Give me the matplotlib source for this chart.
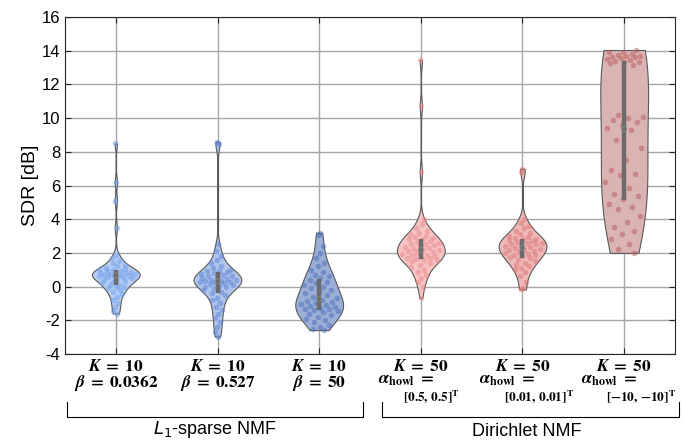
import numpy as np
import matplotlib
matplotlib.use('Agg')
import matplotlib.pyplot as plt
from matplotlib.lines import Line2D
from matplotlib.transforms import blended_transform_factory

plt.rcParams['font.family'] = 'Liberation Sans'
plt.rcParams['mathtext.fontset'] = 'stix'
plt.rcParams['axes.unicode_minus'] = False

# SDR [dB] per configuration
sdr_l1_0362 = [8.5, 6.2, 5.1, 3.5, 1.9, 1.7, 1.5, 1.4, 1.3, 1.2, 1.1, 1.05, 1.0, 0.97,
               0.95, 0.9, 0.88, 0.85, 0.8, 0.78, 0.75, 0.72, 0.7, 0.68, 0.65, 0.62,
               0.6, 0.58, 0.55, 0.5, 0.45, 0.4, 0.35, 0.3, 0.2, 0.12, 0.08, 0.0,
               -0.05, -0.1, -0.2, -0.3, -0.45, -0.6, -0.8, -1.0, -1.2, -1.45, -1.6]
sdr_l1_527 = [8.6, 8.45, 2.5, 2.1, 1.8, 1.6, 1.4, 1.25, 1.1, 1.0, 0.95, 0.9, 0.85, 0.8,
              0.75, 0.7, 0.65, 0.6, 0.55, 0.5, 0.45, 0.42, 0.38, 0.35, 0.32, 0.3,
              0.28, 0.25, 0.2, 0.15, 0.1, 0.05, 0.0, -0.05, -0.1, -0.2, -0.3, -0.4,
              -0.5, -0.65, -0.8, -1.0, -1.2, -1.4, -1.6, -1.85, -2.1, -2.4, -2.7, -2.97]
sdr_l1_50 = [3.2, 3.05, 2.4, 2.0, 1.7, 1.4, 1.2, 1.0, 0.85, 0.7, 0.6, 0.5, 0.4, 0.3,
             0.2, 0.1, 0.0, -0.1, -0.2, -0.3, -0.4, -0.5, -0.6, -0.7, -0.8, -0.85,
             -0.9, -1.0, -1.05, -1.1, -1.15, -1.2, -1.25, -1.3, -1.35, -1.4, -1.45,
             -1.5, -1.6, -1.7, -1.8, -1.9, -2.0, -2.1, -2.25, -2.4, -2.5, -2.58]
sdr_dir_05 = [13.45, 10.7, 6.8, 4.0, 3.7, 3.5, 3.3, 3.2, 3.1, 3.0, 2.95, 2.9, 2.85,
              2.8, 2.7, 2.65, 2.6, 2.55, 2.5, 2.45, 2.4, 2.35, 2.3, 2.25, 2.2, 2.15,
              2.1, 2.05, 2.0, 1.95, 1.9, 1.85, 1.8, 1.75, 1.72, 1.7, 1.65, 1.6, 1.55,
              1.5, 1.4, 1.3, 1.15, 1.0, 0.85, 0.7, 0.5, 0.3, 0.0, -0.66]
sdr_dir_001 = [7.0, 6.8, 4.0, 3.8, 3.6, 3.45, 3.3, 3.2, 3.1, 3.0, 2.95, 2.9, 2.85,
               2.8, 2.75, 2.7, 2.65, 2.6, 2.58, 2.55, 2.5, 2.45, 2.4, 2.35, 2.3,
               2.25, 2.2, 2.15, 2.1, 2.05, 2.0, 1.95, 1.9, 1.85, 1.8, 1.75, 1.7,
               1.6, 1.5, 1.4, 1.3, 1.2, 1.1, 1.0, 0.85, 0.6, 0.3, -0.1, -0.16]
sdr_dir_m10 = [14.04, 13.95, 13.9, 13.8, 13.75, 13.7, 13.7, 13.65, 13.6, 13.55, 13.5,
               13.45, 13.4, 13.35, 13.3, 13.25, 13.15, 10.2, 10.05, 10.0, 9.9, 9.75,
               9.6, 9.4, 9.3, 8.7, 8.2, 7.5, 6.9, 6.7, 6.65, 6.2, 5.85, 5.5, 5.4,
               5.2, 4.9, 4.7, 4.6, 4.2, 3.85, 3.55, 3.3, 3.1, 2.8, 2.5, 2.25, 2.0]

groups = [sdr_l1_0362, sdr_l1_527, sdr_l1_50, sdr_dir_05, sdr_dir_001, sdr_dir_m10]
face_colors = ['#b7cef3', '#b1c4ea', '#9aaed6', '#f6c4c4', '#efb9b9', '#dab3b3']
dot_colors = ['#6f9fea', '#5b84d6', '#4e6fb8', '#ec8a8a', '#dc7676', '#b85a5a']

k_labels = [r'$\boldsymbol{K}\;\mathbf{=}\;\mathbf{10}$'] * 3 + \
           [r'$\boldsymbol{K}\;\mathbf{=}\;\mathbf{50}$'] * 3
beta_labels = [r'$\boldsymbol{\beta}\;\mathbf{=}\;\mathbf{0.0362}$',
               r'$\boldsymbol{\beta}\;\mathbf{=}\;\mathbf{0.527}$',
               r'$\boldsymbol{\beta}\;\mathbf{=}\;\mathbf{50}$']
alpha_label = r'$\boldsymbol{\alpha}_{\mathbf{howl}}\;\mathbf{=}$'
vec_labels = [r'$\mathbf{[0.5,\,0.5]^T}$', r'$\mathbf{[0.01,\,0.01]^T}$',
              r'$\mathbf{[{-}10,\,{-}10]^T}$']


def kde(vals, grid):
    # ksdensity-like bandwidth (robust sigma)
    sig = np.median(np.abs(vals - np.median(vals))) / 0.6745
    bw = sig * (4 / (3 * len(vals))) ** 0.2
    d = np.exp(-0.5 * ((grid[:, None] - vals[None, :]) / bw) ** 2).sum(1)
    return d / d.max()


fig = plt.figure(figsize=(6.84, 4.41), dpi=100)
ax = fig.add_axes([65 / 684, 1 - 354 / 441, 610 / 684, 337 / 441])

half = 0.235
golden = 0.6180339887
for i, vals in enumerate(groups):
    pos = i + 1
    v = np.asarray(vals, dtype=float)
    grid = np.linspace(v.min(), v.max(), 300)
    w = half * kde(v, grid)
    ax.fill_betweenx(grid, pos - w, pos + w, facecolor=face_colors[i],
                     edgecolor='#5a5a5a', lw=0.8, zorder=3)
    jit = ((np.arange(len(v)) * golden + 0.37 * i) % 1.0) * 2 - 1
    xs = pos + jit * 0.85 * np.interp(v, grid, w)
    ax.scatter(xs, v, s=16, color=dot_colors[i], alpha=0.5, lw=0, zorder=4)
    q1, med, q3 = np.percentile(v, [25, 50, 75])
    ax.plot([pos, pos], [q1, q3], color='#6b6b6b', lw=3.2,
            solid_capstyle='butt', zorder=5)
    ax.scatter([pos], [med], s=14, facecolor='none', edgecolor='#8a8a8a',
               lw=0.6, zorder=6)

ax.set_xlim(0.5, 6.5)
ax.set_ylim(-4, 16)
ax.set_yticks(np.arange(-4, 17, 2))
ax.set_xticks(range(1, 7))
ax.set_xticklabels([])
ax.tick_params(axis='both', direction='in', top=True, right=True, length=4,
               width=0.8, labelsize=12, color='#262626')
ax.grid(True, color='#a6a6a6', lw=1)
ax.set_axisbelow(True)
for s in ax.spines.values():
    s.set_color('#262626')
    s.set_linewidth(0.8)
ax.set_ylabel('SDR [dB]', fontsize=14, labelpad=2)

# custom x labels
tr = blended_transform_factory(ax.transData, ax.transAxes)
ppx = 72 / 100  # pixel -> point


def y_ax(pix):
    return -(pix - 354) / 337


for i in range(6):
    pos = i + 1
    ax.text(pos, y_ax(366), k_labels[i], transform=tr, ha='center', va='center',
            fontsize=12.5)
    if i < 3:
        ax.text(pos, y_ax(383), beta_labels[i], transform=tr, ha='center',
                va='center', fontsize=12.5)
    else:
        ax.annotate(alpha_label, (pos, y_ax(381)), xycoords=tr,
                    xytext=(-43 * ppx, 0), textcoords='offset points',
                    ha='left', va='center', fontsize=12.5)
        ax.annotate(vec_labels[i - 3], (pos, y_ax(397)), xycoords=tr,
                    xytext=(-18 * ppx, 0), textcoords='offset points',
                    ha='left', va='center', fontsize=9.5)

# group brackets
def bracket(x0, x1, ytop, ybot):
    xs = [x0 / 684, x0 / 684, x1 / 684, x1 / 684]
    ys = [1 - ytop / 441, 1 - ybot / 441, 1 - ybot / 441, 1 - ytop / 441]
    fig.add_artist(Line2D(xs, ys, color='black', lw=0.8))


bracket(67, 363, 402, 417)
bracket(382, 679, 402, 417)
fig.text(215 / 684, 1 - 430 / 441, r'$L_1$-sparse NMF', ha='center', va='center',
         fontsize=13, math_fontfamily='dejavusans')
fig.text(527 / 684, 1 - 431 / 441, 'Dirichlet NMF', ha='center', va='center',
         fontsize=13)

fig.savefig('out.png', dpi=100)
